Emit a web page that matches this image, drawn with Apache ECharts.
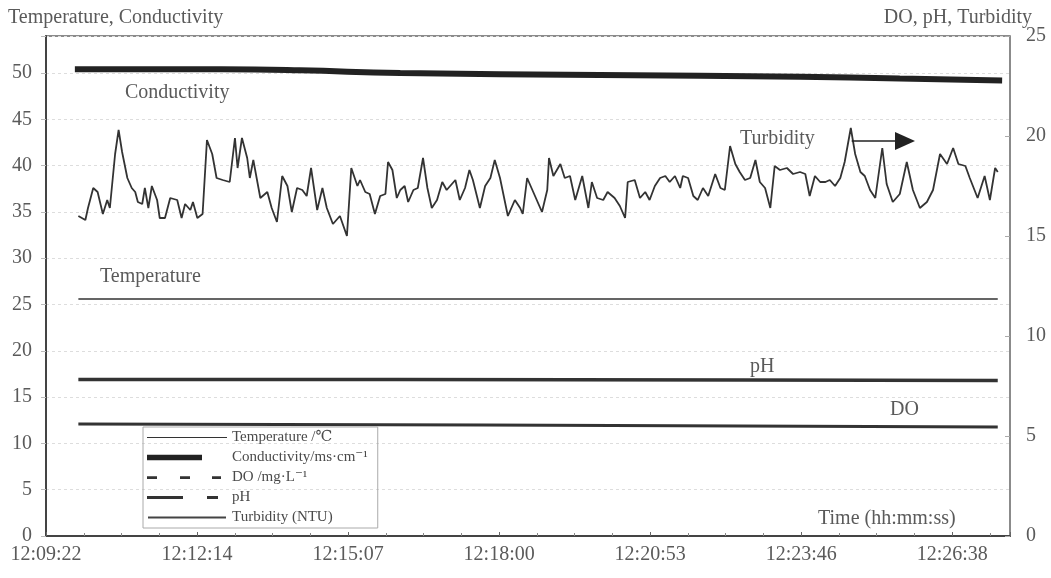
<!DOCTYPE html>
<html>
<head>
<meta charset="utf-8">
<script src="https://cdn.jsdelivr.net/npm/echarts@6/dist/echarts.min.js"></script>
<style>
  html, body { margin: 0; padding: 0; background: #fff; }
  #chart { width: 1051px; height: 578px; }
</style>
</head>
<body>
<div id="chart"></div>
<script>
// x axis is seconds after 12:09:22
const tickLabels = ['12:09:22', '12:12:14', '12:15:07', '12:18:00', '12:20:53', '12:23:46', '12:26:38'];
const xStep = 1036 / 6;
const xMax = 1102;

const turbTime = [37, 45, 48, 54, 59, 65, 70, 73, 79, 83, 87, 93, 98, 102, 105, 110, 113, 117, 121, 127,
  130, 136, 142, 150, 155, 159, 165, 168, 173, 179, 184, 190, 195, 202, 210, 216, 219, 224, 230, 233,
  237, 245, 253, 258, 264, 270, 276, 281, 287, 293, 298, 303, 310, 316, 321, 328, 336, 344, 349, 356,
  359, 365, 370, 376, 382, 388, 391, 396, 401,
  405, 410, 414, 420, 425, 431, 436, 441, 447, 453, 458, 462, 468, 473, 479, 484, 488, 496, 502, 508,
  513, 519, 528, 536, 542, 545, 550, 557, 567, 573, 575, 580, 588, 593, 599, 605, 613, 620, 624, 630,
  637, 642, 650, 656, 662, 665, 673, 679, 685, 690, 696, 702, 708, 713, 719, 725, 728, 734, 740, 745,
  751, 757, 765,
  771, 776, 782, 788, 793, 799, 805, 811, 816, 822, 828, 833, 839, 847, 854, 862, 868, 873, 879, 885,
  891, 896, 902, 908, 913, 920, 925, 931, 936, 942, 948, 956, 961, 968, 976, 984, 991, 999, 1007, 1014,
  1022, 1030, 1037, 1043, 1051, 1056, 1065, 1073, 1079, 1085, 1088];
const turbidity = [16.0, 15.8, 16.4, 17.4, 17.2, 16.1, 16.8, 16.4, 19.1, 20.3, 19.2, 17.9, 17.4, 17.2, 16.7, 16.6, 17.4, 16.4, 17.5, 16.8,
  15.9, 15.9, 16.9, 16.8, 15.9, 16.6, 16.3, 16.7, 15.9, 16.1, 19.8, 19.1, 17.9, 17.8, 17.7, 19.9, 18.4, 19.9, 18.9, 17.9,
  18.8, 16.9, 17.2, 16.4, 15.7, 18.0, 17.5, 16.2, 17.4, 17.3, 17.0, 18.4, 16.3, 17.4, 16.4, 15.6, 16.0, 15.0, 18.4, 17.5,
  17.8, 17.2, 17.1, 16.1, 17.0, 17.1, 18.7, 18.3, 16.9,
  17.3, 17.5, 16.7, 17.3, 17.4, 18.9, 17.4, 16.4, 16.8, 17.7, 17.3, 17.5, 17.8, 16.8, 17.4, 18.3, 17.8, 16.4, 17.5, 17.9,
  18.8, 17.9, 16.0, 16.8, 16.4, 16.1, 17.9, 17.2, 16.2, 17.3, 18.9, 18.0, 18.6, 17.9, 18.0, 16.8, 18.0, 16.4, 17.7, 16.9,
  16.8, 17.2, 16.9, 16.5, 15.9, 17.7, 17.8, 16.9, 17.2, 16.8, 17.5, 17.9, 18.0, 17.7, 18.0, 17.4, 18.0, 17.9, 17.0, 16.8,
  17.4, 17.0, 18.1,
  17.4, 17.3, 19.5, 18.6, 18.2, 17.8, 17.9, 18.8, 17.7, 17.4, 16.4, 18.5, 18.3, 18.4, 18.1, 18.2, 18.1, 17.0, 18.0, 17.7,
  17.7, 17.8, 17.5, 17.9, 18.7, 20.4, 19.1, 18.2, 18.0, 17.3, 16.9, 19.4, 17.6, 16.7, 17.1, 18.7, 17.3, 16.4, 16.7, 17.3,
  19.1, 18.6, 19.4, 18.6, 18.5, 17.9, 16.9, 18.0, 16.8, 18.4, 18.2];

const condTime = [33, 200, 290, 405, 633, 862, 976, 1093];
const conductivity = [50.4, 50.4, 50.3, 50.0, 49.8, 49.6, 49.4, 49.2];
const tempTime = [37, 500, 1088];
const temperature = [25.6, 25.6, 25.6];
const phTime = [37, 400, 800, 1088];
const ph = [7.83, 7.82, 7.8, 7.78];
const doTime = [37, 500, 1088];
const dissolvedO2 = [5.6, 5.55, 5.45];

// arrow next to the "Turbidity" note: [time, value]
const arrowFrom = [921, 19.75];
const arrowTo = [982, 19.75];

const SERIF = '"Liberation Serif", "DejaVu Serif", serif';
const TXT = '#5a5a5a';

function pairs(xs, ys) {
  return xs.map((x, i) => [x, ys[i]]);
}

let chartDom = document.getElementById('chart');
let myChart = echarts.init(chartDom, null, { renderer: 'canvas' });

const names = ['Temperature /℃', 'Conductivity/ms·cm⁻¹', 'DO /mg·L⁻¹', 'pH', 'Turbidity (NTU)'];

const option = {
  animation: false,
  backgroundColor: '#fff',
  grid: {
    left: 46, right: 41, top: 36, bottom: 42,
    show: true, borderColor: '#666', borderWidth: 1.5
  },
  xAxis: {
    type: 'value',
    min: 0,
    max: xMax,
    interval: xStep,
    axisLine: { show: true, lineStyle: { color: '#444', width: 2 } },
    axisTick: { show: true, inside: true, length: 4, lineStyle: { color: '#666' } },
    minorTick: { show: true, splitNumber: 4, length: 3, lineStyle: { color: '#888' } },
    splitLine: { show: false },
    axisLabel: {
      margin: 9,
      fontFamily: SERIF,
      fontSize: 20,
      color: TXT,
      formatter: function (v) {
        const i = v / xStep;
        if (Math.abs(i - Math.round(i)) > 1e-3) return '';
        return tickLabels[Math.round(i)] || '';
      }
    }
  },
  yAxis: [
    {
      type: 'value',
      min: 0,
      max: 54,
      interval: 5,
      axisLine: { show: true, lineStyle: { color: '#444', width: 2 } },
      axisTick: { show: true, length: 5, lineStyle: { color: '#bbb' } },
      splitLine: { show: true, lineStyle: { color: '#ddd', type: [3, 3], width: 1 } },
      axisLabel: {
        margin: 14,
        fontFamily: SERIF,
        fontSize: 20,
        color: TXT,
        formatter: function (v) {
          return v % 5 === 0 ? String(v) : '';
        }
      }
    },
    {
      type: 'value',
      min: 0,
      max: 25,
      interval: 5,
      position: 'right',
      axisLine: { show: false },
      axisTick: { show: true, inside: true, length: 5, lineStyle: { color: '#aaa' } },
      splitLine: { show: false },
      axisLabel: {
        margin: 16,
        fontFamily: SERIF,
        fontSize: 20,
        color: TXT
      }
    }
  ],
  legend: {
    orient: 'vertical',
    left: 143,
    top: 427,
    padding: [2, 10, 2, 4],
    itemWidth: 80,
    itemHeight: 10,
    itemGap: 3,
    borderColor: '#aaa',
    borderWidth: 1,
    symbolKeepAspect: false,
    selectedMode: false,
    textStyle: { fontFamily: SERIF, fontSize: 15, lineHeight: 17, color: '#4a4a4a' },
    data: [
      { name: names[0], icon: 'path://M0,0M80,10M0,4.4H80V5.6H0Z', itemStyle: { color: '#333' } },
      { name: names[1], icon: 'path://M0,0M80,10M0,2.2H55V7.8H0Z', itemStyle: { color: '#222' } },
      { name: names[2], icon: 'path://M0,0M80,10M0,3.8H10V6.4H0ZM33,3.8H43V6.4H33ZM65,3.8H74V6.4H65Z', itemStyle: { color: '#333' } },
      { name: names[3], icon: 'path://M0,0M80,10M0,3.5H36V6.5H0ZM60,3.5H71V6.5H60Z', itemStyle: { color: '#333' } },
      { name: names[4], icon: 'path://M0,0M80,10M1,4H79V6H1Z', itemStyle: { color: '#444' } }
    ]
  },
  graphic: [
    { type: 'text', x: 8, y: 18, style: { text: 'Temperature, Conductivity', fill: TXT, font: '20px ' + SERIF, verticalAlign: 'middle' } },
    { type: 'text', x: 1032, y: 18, style: { text: 'DO, pH, Turbidity', fill: TXT, font: '20px ' + SERIF, verticalAlign: 'middle', align: 'right' } },
    { type: 'text', x: 125, y: 93, style: { text: 'Conductivity', fill: TXT, font: '20px ' + SERIF, verticalAlign: 'middle' } },
    { type: 'text', x: 100, y: 277, style: { text: 'Temperature', fill: TXT, font: '20px ' + SERIF, verticalAlign: 'middle' } },
    { type: 'text', x: 740, y: 139, style: { text: 'Turbidity', fill: TXT, font: '20px ' + SERIF, verticalAlign: 'middle' } },
    { type: 'text', x: 750, y: 367, style: { text: 'pH', fill: TXT, font: '20px ' + SERIF, verticalAlign: 'middle' } },
    { type: 'text', x: 890, y: 410, style: { text: 'DO', fill: TXT, font: '20px ' + SERIF, verticalAlign: 'middle' } },
    { type: 'text', x: 818, y: 519, style: { text: 'Time (hh:mm:ss)', fill: TXT, font: '20px ' + SERIF, verticalAlign: 'middle' } }
  ],
  series: [
    {
      name: names[0], type: 'line', yAxisIndex: 0, symbol: 'none',
      data: pairs(tempTime, temperature),
      lineStyle: { color: '#333', width: 1.5 }, itemStyle: { color: '#333' }
    },
    {
      name: names[1], type: 'line', yAxisIndex: 0, symbol: 'none', smooth: true,
      data: pairs(condTime, conductivity),
      lineStyle: { color: '#222', width: 6 }, itemStyle: { color: '#222' }
    },
    {
      name: names[2], type: 'line', yAxisIndex: 1, symbol: 'none',
      data: pairs(doTime, dissolvedO2),
      lineStyle: { color: '#333', width: 3 }, itemStyle: { color: '#333' }
    },
    {
      name: names[3], type: 'line', yAxisIndex: 1, symbol: 'none',
      data: pairs(phTime, ph),
      lineStyle: { color: '#333', width: 3.5 }, itemStyle: { color: '#333' }
    },
    {
      name: names[4], type: 'line', yAxisIndex: 1, symbol: 'none',
      data: pairs(turbTime, turbidity),
      lineStyle: { color: '#333', width: 1.8 }, itemStyle: { color: '#444' },
      markLine: {
        silent: true,
        symbol: ['none', 'triangle'],
        symbolSize: [18, 20],
        label: { show: false },
        lineStyle: { color: '#222', width: 1.5, type: 'solid' },
        data: [[{ coord: arrowFrom }, { coord: arrowTo }]]
      }
    }
  ]
};

option && myChart.setOption(option);
</script>
</body>
</html>
